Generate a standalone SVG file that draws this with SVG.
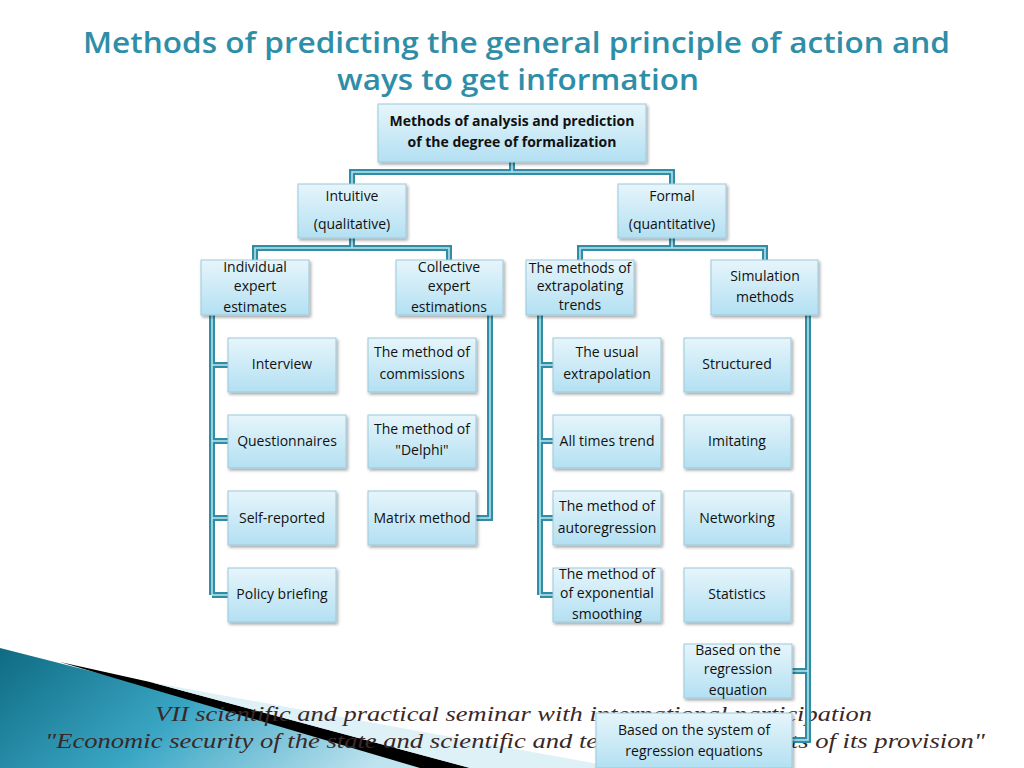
<svg xmlns="http://www.w3.org/2000/svg" width="1024" height="768" viewBox="0 0 1024 768">
<defs>
<linearGradient id="bx" x1="0" y1="0" x2="0" y2="1"><stop offset="0" stop-color="#e6f5fb"/><stop offset="1" stop-color="#b3e0f2"/></linearGradient>
<linearGradient id="tl" x1="0" y1="0" x2="1" y2="0.3"><stop offset="0" stop-color="#0f6b82"/><stop offset="0.5" stop-color="#3aa6c4"/><stop offset="1" stop-color="#bfe3ef"/></linearGradient>
<filter id="sh" x="-10%" y="-10%" width="130%" height="140%"><feDropShadow dx="1.5" dy="2" stdDeviation="1.5" flood-color="#000" flood-opacity="0.35"/></filter>
</defs>
<style>
.b{fill:url(#bx);stroke:#9cc9db;stroke-width:1;filter:url(#sh)}
.t{font-family:"Open Sans","Liberation Sans",sans-serif;font-size:14px;fill:#111;text-anchor:middle}
.c1{fill:none;stroke:#2f8ea5;stroke-width:6}
.c2{fill:none;stroke:#bfe6f0;stroke-width:1.5}
</style>
<rect width="1024" height="768" fill="#fff"/>
<polygon points="0,648 470,768 0,768" fill="url(#tl)"/>
<polygon points="60,662 150,682 470,768 420,768" fill="#000"/>
<polygon points="150,682 620,768 470,768" fill="#d6eef5" opacity="0.8"/>
<text x="83" y="53" textLength="867" lengthAdjust="spacingAndGlyphs" font-family="'Open Sans','Liberation Sans',sans-serif" font-weight="600" font-size="29" fill="#2e8ea8">Methods of predicting the general principle of action and</text>
<text x="337" y="90" textLength="362" lengthAdjust="spacingAndGlyphs" font-family="'Open Sans','Liberation Sans',sans-serif" font-weight="600" font-size="29" fill="#2e8ea8">ways to get information</text>
<g font-family="'Liberation Serif',serif" font-style="italic" font-size="21" fill="#3a2828">
<text x="155" y="721" textLength="717" lengthAdjust="spacingAndGlyphs">VII scientific and practical seminar with international participation</text>
<text x="45" y="748" textLength="940" lengthAdjust="spacingAndGlyphs">"Economic security of the state and scientific and technological aspects of its provision"</text>
</g>
<g id="connectors">
<path class="c1" d="M512,162V172H352V184M512,172H672V184M352,238V248H255V260M352,248H449V260M672,238V248H580V260M672,248H765V260M212,315V595M212,365H228M212,441H228M212,518H228M212,595H228M490,315V518H476M540,315V595M540,365H553M540,441H553M540,518H553M540,595H553M808,315V740H792M808,671H792"/>
<path class="c2" d="M512,162V172H352V184M512,172H672V184M352,238V248H255V260M352,248H449V260M672,238V248H580V260M672,248H765V260M212,315V595M212,365H228M212,441H228M212,518H228M212,595H228M490,315V518H476M540,315V595M540,365H553M540,441H553M540,518H553M540,595H553M808,315V740H792M808,671H792"/>
</g>
<g id="root"><rect class="b" x="378" y="104" width="268" height="58"/><text class="t" font-weight="bold" x="512" y="126">Methods of analysis and prediction</text><text class="t" font-weight="bold" x="512" y="147">of the degree of formalization</text></g>
<g id="intuitive"><rect class="b" x="298" y="184" width="108" height="54"/><text class="t" x="352" y="201">Intuitive</text><text class="t" x="352" y="229">(qualitative)</text></g>
<g id="formal"><rect class="b" x="618" y="184" width="108" height="54"/><text class="t" x="672" y="201">Formal</text><text class="t" x="672" y="229">(quantitative)</text></g>
<g id="individual"><rect class="b" x="201" y="260" width="108" height="55"/><text class="t" x="255" y="272">Individual</text><text class="t" x="255" y="291">expert</text><text class="t" x="255" y="312">estimates</text></g>
<g id="collective"><rect class="b" x="396" y="260" width="107" height="55"/><text class="t" x="449" y="272">Collective</text><text class="t" x="449" y="291">expert</text><text class="t" x="449" y="312">estimations</text></g>
<g id="extrap"><rect class="b" x="526" y="260" width="108" height="55"/><text class="t" font-size="12.5" x="580" y="273">The methods of</text><text class="t" font-size="12.5" x="580" y="291">extrapolating</text><text class="t" font-size="12.5" x="580" y="310">trends</text></g>
<g id="simulation"><rect class="b" x="711" y="260" width="107" height="55"/><text class="t" x="765" y="281">Simulation</text><text class="t" x="765" y="302">methods</text></g>
<g id="interview"><rect class="b" x="228" y="338" width="108" height="54"/><text class="t" x="282" y="369">Interview</text></g>
<g id="quest"><rect class="b" x="228" y="415" width="118" height="53"/><text class="t" x="287" y="446">Questionnaires</text></g>
<g id="self"><rect class="b" x="228" y="491" width="108" height="54"/><text class="t" x="282" y="523">Self-reported</text></g>
<g id="policy"><rect class="b" x="228" y="568" width="108" height="54"/><text class="t" x="282" y="599">Policy briefing</text></g>
<g id="commissions"><rect class="b" x="368" y="338" width="108" height="54"/><text class="t" x="422" y="357">The method of</text><text class="t" x="422" y="379">commissions</text></g>
<g id="delphi"><rect class="b" x="368" y="415" width="108" height="53"/><text class="t" x="422" y="434">The method of</text><text class="t" x="422" y="455">"Delphi"</text></g>
<g id="matrix"><rect class="b" x="368" y="491" width="108" height="54"/><text class="t" x="422" y="523">Matrix method</text></g>
<g id="usual"><rect class="b" x="553" y="338" width="108" height="54"/><text class="t" x="607" y="357">The usual</text><text class="t" x="607" y="379">extrapolation</text></g>
<g id="alltimes"><rect class="b" x="553" y="415" width="108" height="53"/><text class="t" x="607" y="446">All times trend</text></g>
<g id="autoreg"><rect class="b" x="553" y="491" width="108" height="54"/><text class="t" x="607" y="511">The method of</text><text class="t" x="607" y="533">autoregression</text></g>
<g id="expo"><rect class="b" x="553" y="568" width="108" height="54"/><text class="t" x="607" y="579">The method of</text><text class="t" x="607" y="598">of exponential</text><text class="t" x="607" y="619">smoothing</text></g>
<g id="structured"><rect class="b" x="684" y="338" width="107" height="54"/><text class="t" x="737" y="369">Structured</text></g>
<g id="imitating"><rect class="b" x="684" y="415" width="107" height="53"/><text class="t" x="737" y="446">Imitating</text></g>
<g id="networking"><rect class="b" x="684" y="491" width="107" height="54"/><text class="t" x="737" y="523">Networking</text></g>
<g id="statistics"><rect class="b" x="684" y="568" width="107" height="54"/><text class="t" x="737" y="599">Statistics</text></g>
<g id="regeq"><rect class="b" x="684" y="644" width="108" height="54"/><text class="t" x="738" y="655">Based on the</text><text class="t" x="738" y="674">regression</text><text class="t" x="738" y="695">equation</text></g>
<g id="regsys"><rect class="b" x="596" y="713" width="196" height="55"/><text class="t" x="694" y="735">Based on the system of</text><text class="t" x="694" y="756">regression equations</text></g>
</svg>
